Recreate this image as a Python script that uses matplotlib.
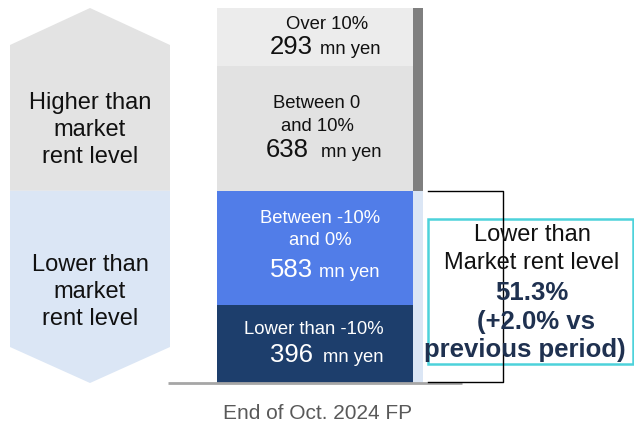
import matplotlib.pyplot as plt
from matplotlib.patches import Polygon, Rectangle

plt.rcParams['font.family'] = ['Liberation Sans', 'DejaVu Sans']

# values in mn yen, bottom to top
segments = ['Lower than -10%', 'Between -10%\nand 0%', 'Between 0\nand 10%', 'Over 10%']
values = [396, 583, 638, 293]
colors = ['#1d3e6c', '#517de8', '#e2e2e2', '#ececec']
text_colors = ['white', 'white', '#111111', '#111111']
period = 'End of Oct. 2024 FP'
lower_share = '51.3%'
share_change = '(+2.0% vs'

total = sum(values)
lower = values[0] + values[1]
upper = values[2] + values[3]

# axes: x in pixels, y in mn yen (bar base at pixel row 383, top at row 8)
scale = 375 / total


def py(row):
    return (383 - row) / scale


fig = plt.figure(figsize=(6.34, 4.23), dpi=100)
ax = fig.add_axes([0, 0, 1, 1])
ax.set_xlim(0, 634)
ax.set_ylim(py(423), py(0))
ax.axis('off')

# stacked bar
bottom = 0
for v, c in zip(values, colors):
    ax.bar(315, v, width=196, bottom=bottom, color=c, linewidth=0)
    bottom += v

# side strips
ax.bar(418, upper, width=10, bottom=lower, color='#7f7f7f', linewidth=0)
ax.bar(418, lower, width=10, bottom=0, color='#dbe6f5', linewidth=0)

# baseline
ax.plot([168, 462], [0, 0], color='#a6a6a6', lw=2, solid_capstyle='butt')

# left hexagon labels
ax.add_patch(Polygon([(10, lower), (10, py(45)), (90, total), (170, py(45)), (170, lower)],
                     closed=True, color='#e3e3e3', lw=0))
ax.add_patch(Polygon([(10, lower), (10, py(347)), (90, 0), (170, py(347)), (170, lower)],
                     closed=True, color='#dbe6f5', lw=0))
ax.text(90, py(130), 'Higher than\nmarket\nrent level', ha='center', va='center',
        fontsize=17, linespacing=1.28, color='#111111')
ax.text(90, py(292), 'Lower than\nmarket\nrent level', ha='center', va='center',
        fontsize=17, linespacing=1.28, color='#111111')

# segment labels
label_rows = [[(314, 334)], [(320, 223), (320, 245)], [(317, 108), (317, 131)], [(327, 29)]]
num_pos = [(313, 323, 362), (313, 319, 277), (309, 321, 157), (313, 320, 54)]
for i, v in enumerate(values):
    lines = segments[i].split('\n')
    for (x, row), line in zip(label_rows[i], lines):
        ax.text(x, py(row), line, ha='center', va='baseline', fontsize=13.3, color=text_colors[i])
    xr, xl, row = num_pos[i]
    ax.text(xr, py(row), str(v), ha='right', va='baseline', fontsize=18.5, color=text_colors[i])
    ax.text(xl, py(row), 'mn yen', ha='left', va='baseline', fontsize=13.3, color=text_colors[i])

# bracket
ax.plot([428, 503, 503, 428], [lower, lower, py(382), py(382)], color='black', lw=1)

# callout box
ax.add_patch(Rectangle((428, py(364)), 205, py(219) - py(364), facecolor='white',
                       edgecolor='#4dd2db', lw=1.8))
ax.text(532, py(235), 'Lower than', ha='center', va='center', fontsize=17, color='#111111')
ax.text(532, py(263), 'Market rent level', ha='center', va='center', fontsize=17, color='#111111')
ax.text(532, py(293), lower_share, ha='center', va='center', fontsize=18.5,
        fontweight='bold', color='#1f3150')
ax.text(536, py(322), share_change, ha='center', va='center', fontsize=18.5,
        fontweight='bold', color='#1f3150')
ax.text(525, py(350), 'previous period)', ha='center', va='center', fontsize=18.5,
        fontweight='bold', color='#1f3150')

# period label
ax.text(318, py(413), period, ha='center', va='center', fontsize=15, color='#595959')

fig.savefig('out.png', dpi=100)
